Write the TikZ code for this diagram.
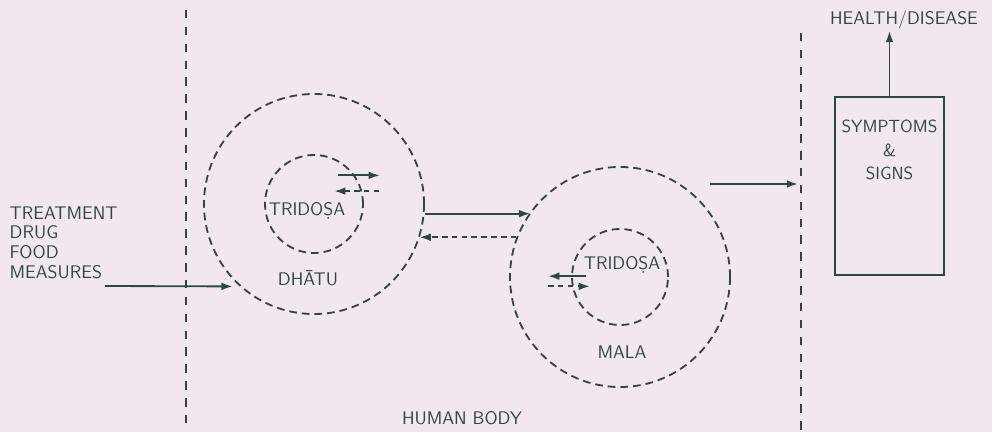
\documentclass[tikz,border=0pt]{standalone}
\usetikzlibrary{arrows.meta}
\definecolor{ink}{RGB}{40,74,70}
\definecolor{paper}{RGB}{243,231,239}
\tikzset{
  ring/.style={circle, draw=ink, line width=1.3pt, dash pattern=on 5.5pt off 3.5pt, inner sep=0pt},
  bodyline/.style={draw=ink, line width=1.1pt, dash pattern=on 6pt off 6pt},
  arr/.style={draw=ink, line width=1.3pt, -{Latex[length=8pt,width=5.5pt]}},
  darr/.style={arr, dash pattern=on 4pt off 3pt},
  lbl/.style={text=ink, font=\sffamily\fontsize{13}{14}\selectfont, inner sep=1pt},
}
\begin{document}
\begin{tikzpicture}[x=0.025cm, y=-0.025cm]
    \useasboundingbox (0,0) rectangle (992,432);
    \fill[paper] (0,0) rectangle (992,432);

    % Body boundaries
    \draw[bodyline] (186,10) -- (186,432);
    \draw[bodyline] (801,33) -- (801,432);
    \node[lbl] (body) at (462,418) {HUMAN BODY};

    % Inputs
    \node[lbl, anchor=west, align=left] (treat) at (8,242.5) {TREATMENT\\DRUG\\FOOD\\MEASURES};
    \coordinate (mstart) at (105,286);

    % Dhatu
    \node[ring, minimum size=5.5cm] (dhatu) at (314,204) {};
    \node[ring, minimum size=2.45cm] (dtri) at (314,204) {};
    \node[lbl] (dtritxt) at (307,211) {TRIDO\d{S}A};
    \node[lbl] (dhatutxt) at (308,278) {DH\=ATU};
    \draw[arr] ([shift={(-17,0)}]dtri.35) -- ++(42,0);
    \draw[darr] ([shift={(17,0)}]dtri.15) -- ++(-45,0);

    % Mala
    \node[ring, minimum size=5.5cm] (mala) at (620,277) {};
    \node[ring, minimum size=2.4cm] (mtri) at (620,277) {};
    \node[lbl] (mtritxt) at (622,265) {TRIDO\d{S}A};
    \node[lbl] (malatxt) at (622,352) {MALA};
    \draw[arr] ([shift={(15,0)}]mtri.179) -- ++(-38,0);
    \draw[darr] ([shift={(-24,0)}]mtri.191) -- ++(42,0);

    % Dhatu <-> Mala
    \draw[arr] (dhatu.355.6) -- (dhatu.355.6 -| mala.144.1);
    \draw[darr] (mala.159.2) -- (mala.159.2 -| dhatu.342);
    \draw[arr, shorten >=5pt] (mstart) -- (dhatu.228.6);

    % Outcome
    \coordinate (mout) at (710,184);
    \coordinate (rline) at (798,184);
    \draw[arr] (mout) -- (rline);
    \node[draw=ink, line width=1.2pt, minimum width=2.725cm, minimum height=4.45cm] (box) at (889.5,186) {};
    \node[lbl, align=center, font=\sffamily\fontsize{12.5}{16.5}\selectfont] (symtxt) at (889.5,150) {SYMPTOMS\\\&\\SIGNS};
    \node[lbl] (health) at (904,20) {HEALTH/DISEASE};
    \draw[arr] (box.north) -- (box.north |- health.south);
\end{tikzpicture}
\end{document}
